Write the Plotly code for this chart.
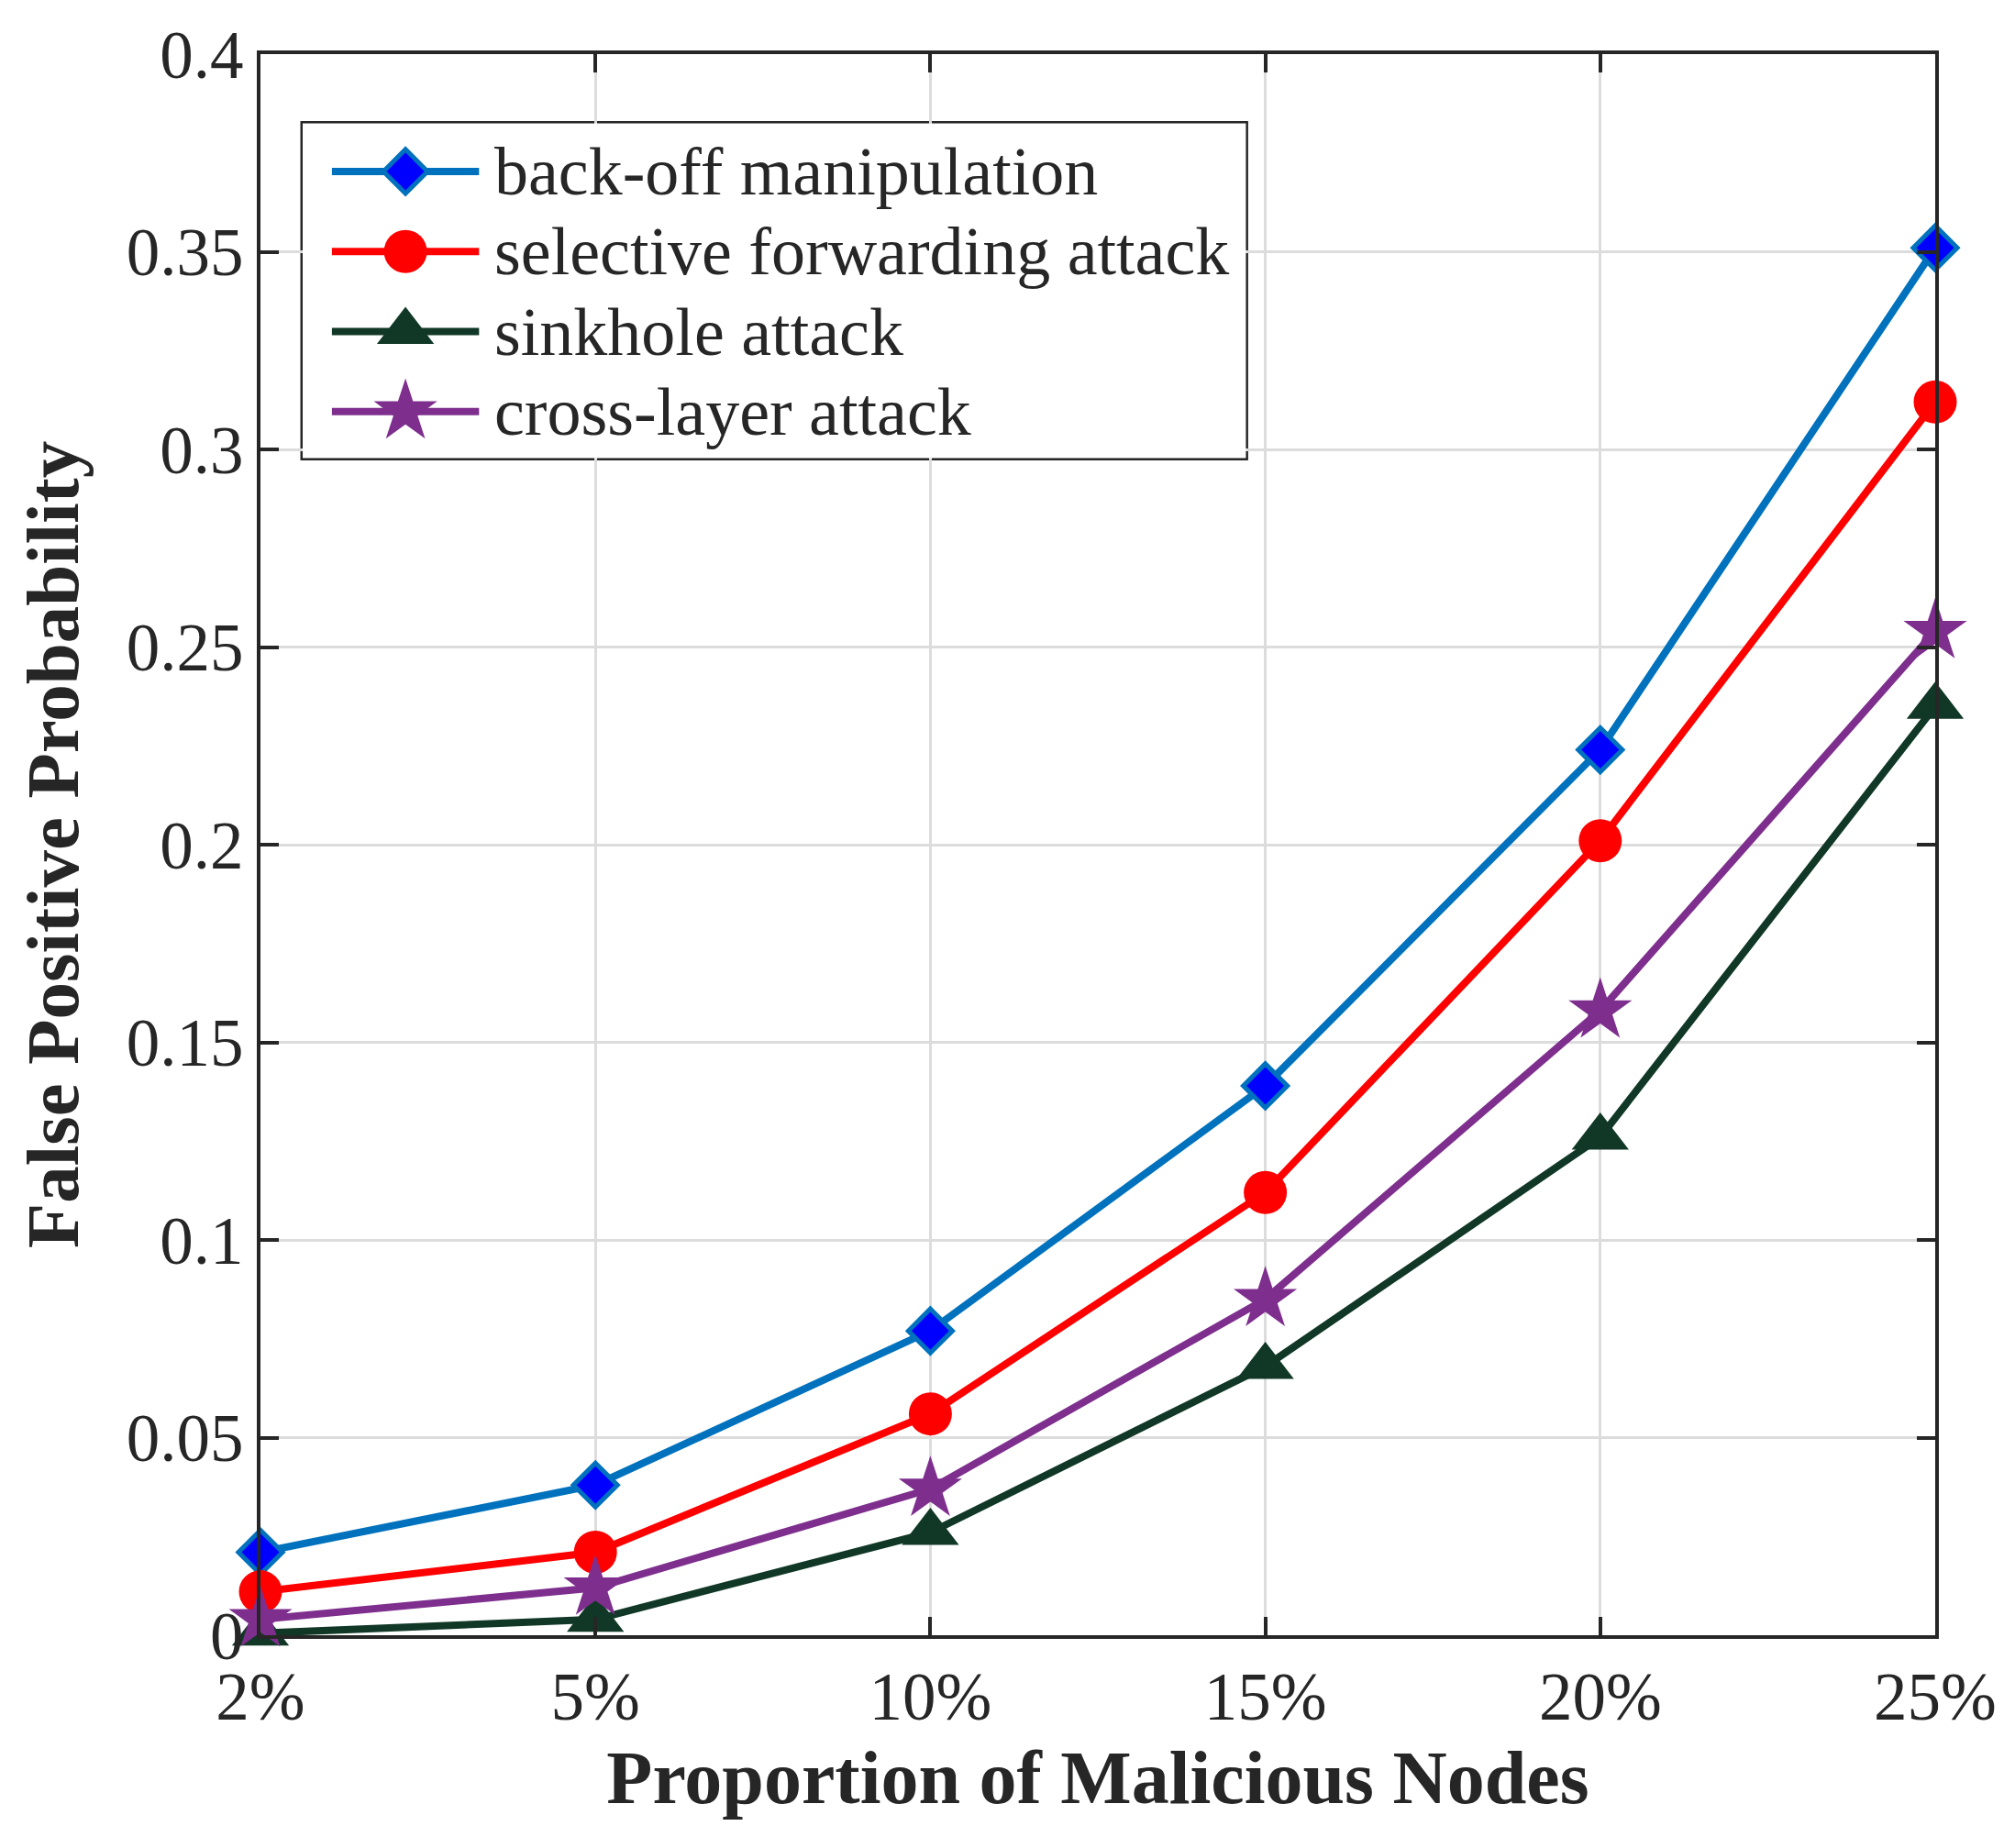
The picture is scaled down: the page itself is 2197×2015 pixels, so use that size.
import plotly.graph_objects as go

# x categories (proportion of malicious nodes)
categories = ["2%", "5%", "10%", "15%", "20%", "25%"]

# false positive probability per attack type
backoff = [0.021, 0.038, 0.077, 0.139, 0.224, 0.351]
selective = [0.011, 0.021, 0.056, 0.112, 0.201, 0.312]
sinkhole = [0.0005, 0.004, 0.026, 0.068, 0.126, 0.235]
crosslayer = [0.004, 0.012, 0.037, 0.085, 0.158, 0.254]

names = ["back-off manipulation", "selective forwarding attack",
         "sinkhole attack", "cross-layer attack"]

y_ticks = [0, 0.05, 0.1, 0.15, 0.2, 0.25, 0.3, 0.35, 0.4]
y_ticktext = ["0", "0.05", "0.1", "0.15", "0.2", "0.25", "0.3", "0.35", "0.4"]

FONT = "Liberation Serif"
DARK = "#262626"

# style per series: line colour, marker symbol, marker fill, marker edge, size
styles = [
    dict(color="#0072BD", symbol="diamond", fill="#0000FF", edge="#0072BD", size=37, lw=5),
    dict(color="#FF0000", symbol="circle", fill="#FF0000", edge="#FF0000", size=47, lw=0),
    dict(color="#113826", symbol="triangle-up", fill="#113826", edge="#113826", size=54, lw=0),
    dict(color="#7E2F8E", symbol="star", fill="#7E2F8E", edge="#7E2F8E", size=52, lw=0),
]
series = [backoff, selective, sinkhole, crosslayer]

fig = go.Figure()

for vals, st, nm in zip(series, styles, names):
    fig.add_trace(go.Scatter(
        x=categories, y=vals, name=nm, mode="lines+markers",
        line=dict(color=st["color"], width=8),
        marker=dict(symbol=st["symbol"], size=st["size"], color=st["fill"],
                    line=dict(color=st["edge"], width=st["lw"])),
        cliponaxis=False, showlegend=False,
    ))

# hand-built legend on its own little axis so the sample lines are long like MATLAB's
for i, (st, nm) in enumerate(zip(styles, names)):
    fig.add_trace(go.Scatter(
        x=[0.031, 0.187], y=[i, i], mode="lines",
        line=dict(color=st["color"], width=8),
        xaxis="x2", yaxis="y2", showlegend=False, hoverinfo="skip",
    ))
    fig.add_trace(go.Scatter(
        x=[0.109], y=[i], mode="markers",
        marker=dict(symbol=st["symbol"], size=st["size"], color=st["fill"],
                    line=dict(color=st["edge"], width=st["lw"])),
        xaxis="x2", yaxis="y2", showlegend=False, hoverinfo="skip",
    ))
    fig.add_annotation(
        x=0.201, y=i, xref="x2", yref="y2", text=nm, showarrow=False,
        xanchor="left", yanchor="middle",
        font=dict(family=FONT, size=74, color=DARK),
    )

fig.add_shape(type="rect", xref="x2 domain", yref="y2 domain",
              x0=0, x1=1, y0=0, y1=1, layer="below",
              line=dict(color=DARK, width=5), fillcolor="white")

axis_common = dict(
    showline=True, linecolor=DARK, linewidth=4, mirror="ticks",
    ticks="inside", ticklen=20, tickwidth=4, tickcolor=DARK,
    showgrid=True, gridcolor="#DCDCDC", gridwidth=3, zeroline=False,
    tickfont=dict(family=FONT, size=73, color=DARK),
)

# page body has an 8px margin, so the figure is kept 16px smaller to fit the window
fig.update_layout(
    width=2181, height=1999,
    margin=dict(l=276, r=78, t=40, b=224),
    paper_bgcolor="white", plot_bgcolor="white",
    xaxis=dict(
        type="category", range=[0, 5], **axis_common,
        title=dict(text="Proportion of Malicious Nodes", standoff=20,
                   font=dict(family=FONT, size=82, color=DARK, weight="bold")),
    ),
    yaxis=dict(
        range=[0, 0.4], tickvals=y_ticks, ticktext=y_ticktext, **axis_common,
        title=dict(text="False Positive Probability", standoff=26,
                   font=dict(family=FONT, size=81, color=DARK, weight="bold")),
    ),
    xaxis2=dict(domain=[0.0252, 0.5884], range=[0, 1], visible=False,
                anchor="y2", fixedrange=True),
    yaxis2=dict(domain=[0.7445, 0.9562], range=[3.58, -0.6], visible=False,
                anchor="x2", fixedrange=True),
)

fig.write_html("out.html")
